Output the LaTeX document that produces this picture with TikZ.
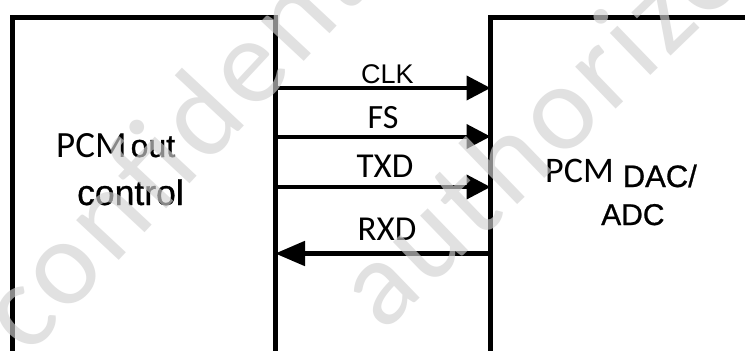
\documentclass[tikz,border=0pt]{standalone}
\usepackage{fontspec}
\setmainfont{Liberation Sans}
\newfontfamily\calib{Carlito}
\newfontfamily\calibw[LetterSpace=4]{Carlito}
\newfontfamily\ari[FakeBold=0.8]{Liberation Sans}
\newfontfamily\arin{Liberation Sans}
\usetikzlibrary{arrows.meta}
\begin{document}
\begin{tikzpicture}[x=1pt,y=-1pt,
  box/.style={draw, line width=5pt, inner sep=0pt, outer sep=0pt, anchor=north west},
  sigR/.style={line width=4pt, -{Triangle[length=24pt,width=24pt]}},
  sigL/.style={line width=5pt, -{Triangle[length=30pt,width=24pt]}},
  lbl/.style={inner sep=0pt, anchor=base},
  txt/.style={inner sep=0pt, anchor=base west},
  wm/.style={inner sep=0pt, anchor=base west, text=black!18, opacity=0.65,
    font=\calibw\fontsize{122pt}{122pt}\selectfont}]
\useasboundingbox (0,0) rectangle (745,351);
\clip (0,0) rectangle (745,351);
\fill[white] (0,0) rectangle (745,351);
% boxes
\node[box, minimum width=262.5pt, minimum height=336pt] (lbox) at (12.5,17) {};
\node[box, minimum width=280pt, minimum height=336pt] (rbox) at (490.5,17) {};
% signals
\draw[sigR] (lbox.east |- 0,88) -- (rbox.west |- 0,88);
\draw[sigR] (lbox.east |- 0,136.5) -- (rbox.west |- 0,136.5);
\draw[sigR] (lbox.east |- 0,187) -- (rbox.west |- 0,187);
\draw[sigL] (rbox.west |- 0,253.5) -- (lbox.east |- 0,253.5);
% labels
\node[lbl, font=\arin\fontsize{27pt}{27pt}\selectfont] (clk) at (387.5,83) {CLK};
\node[lbl, font=\calib\fontsize{34pt}{34pt}\selectfont] (fs) at (383,128) {FS};
\node[lbl, font=\calib\fontsize{35pt}{35pt}\selectfont] (txd) at (385,177) {TXD};
\node[lbl, font=\calib\fontsize{35pt}{35pt}\selectfont] (rxd) at (387,240) {RXD};
% box texts
\node[txt] (pcmout) at (56,157) {{\calib\fontsize{37pt}{37pt}\selectfont PCM}\hspace{4pt}{\ari\fontsize{32pt}{32pt}\selectfont out}};
\node[txt, font=\ari\fontsize{35.5pt}{35.5pt}\selectfont] (control) at (77,205) {control};
\node[txt] (pcmdac) at (545,182) {{\calib\fontsize{36pt}{36pt}\selectfont PCM}\hspace{9pt}\raisebox{-5pt}{\ari\fontsize{31pt}{31pt}\selectfont DAC/}};
\node[txt, font=\ari\fontsize{30pt}{30pt}\selectfont] (adc) at (601,225) {ADC};
% watermark
\node[wm, rotate=47] (wm1) at (28,358) {confidential};
\node[wm, rotate=44] (wm2) at (383,334) {authorized};
\end{tikzpicture}
\end{document}
